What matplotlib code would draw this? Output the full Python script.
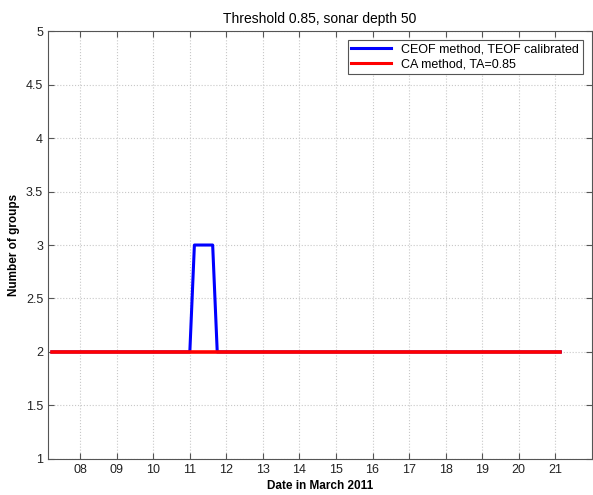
import matplotlib
matplotlib.use("Agg")
import matplotlib.pyplot as plt

plt.rcParams['font.family'] = ['Liberation Sans', 'DejaVu Sans']

# day of March 2011 (fractional) and number of groups
ceof_days = [7.23, 11.0, 11.125, 11.625, 11.75, 21.14]
ceof_groups = [2, 2, 3, 3, 2, 2]
ca_days = [7.23, 21.14]
ca_groups = [2, 2]

day_ticks = list(range(8, 22))
day_labels = ["%02d" % d for d in day_ticks]
y_ticks = [1, 1.5, 2, 2.5, 3, 3.5, 4, 4.5, 5]
y_labels = ["1", "1.5", "2", "2.5", "3", "3.5", "4", "4.5", "5"]

fig = plt.figure(figsize=(5.93, 4.95), dpi=100)
ax = fig.add_axes([0.081, 0.073, 0.917, 0.864])

ax.plot(ceof_days, ceof_groups, color='#0000ff', lw=2.2, label='CEOF method, TEOF calibrated')
ax.plot(ca_days, ca_groups, color='#ff0000', lw=2.6, label='CA method, TA=0.85', zorder=3)

ax.set_xlim(7.12, 22.0)
ax.set_ylim(1, 5)
ax.set_xticks(day_ticks)
ax.set_xticklabels(day_labels)
ax.set_yticks(y_ticks)
ax.set_yticklabels(y_labels)
ax.tick_params(direction='in', length=4, labelsize=9, top=True, right=True,
               color='#555555', labelcolor='#222222')
ax.grid(True, linestyle=':', color='#c8c8c8', lw=0.8)
for s in ax.spines.values():
    s.set_color('#555555')

ax.set_title('Threshold 0.85, sonar depth 50', fontsize=10)
ax.set_xlabel('Date in March 2011', fontsize=8.5, fontweight='bold', labelpad=3)
ax.set_ylabel('Number of groups', fontsize=8.5, fontweight='bold')

leg = ax.legend(loc='upper right', fontsize=9, fancybox=False, framealpha=1,
                edgecolor='#555555', borderaxespad=0.7, handlelength=3.2,
                borderpad=0.3, labelspacing=0.2)
leg.get_frame().set_linewidth(0.8)
for line in leg.get_lines():
    line.set_linewidth(2.2)

fig.savefig('out.png', dpi=100)
